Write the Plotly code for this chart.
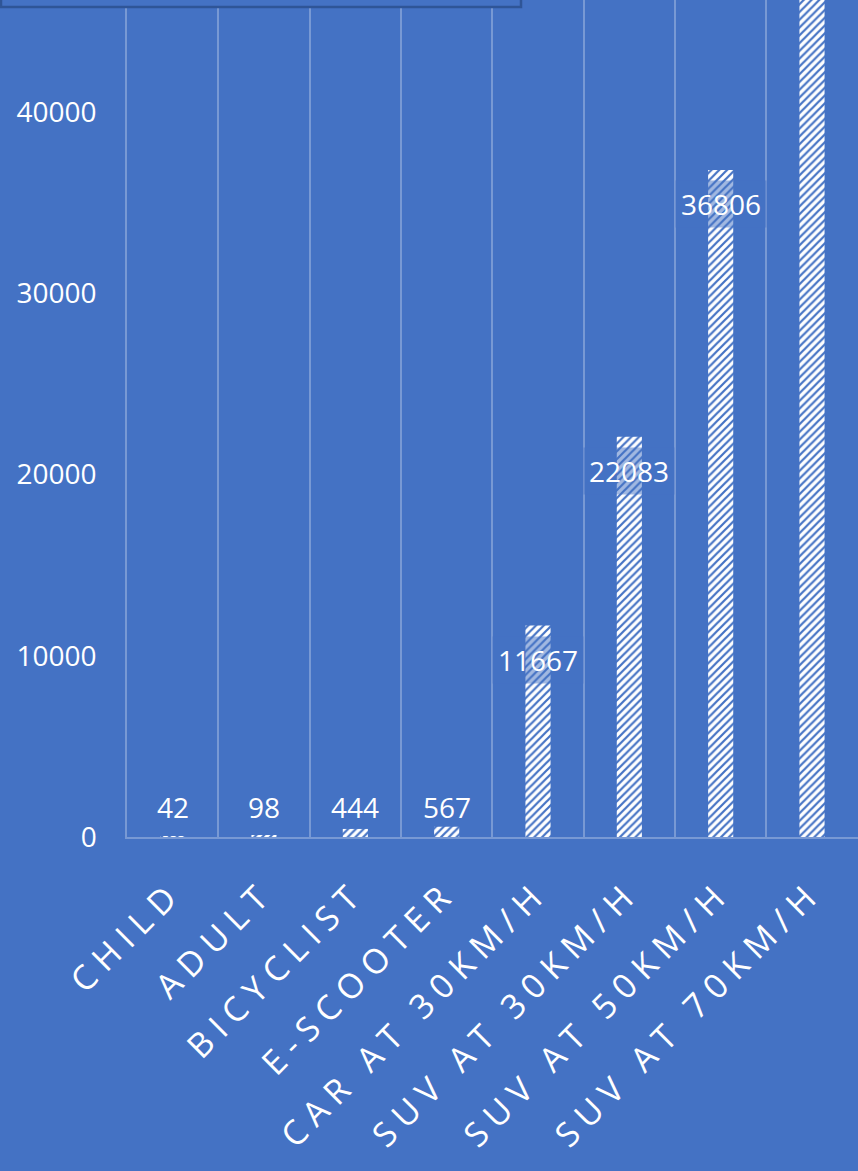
import plotly.graph_objects as go

categories = ["CHILD", "ADULT", "BICYCLIST", "E-SCOOTER", "CAR AT 30KM/H",
              "SUV AT 30KM/H", "SUV AT 50KM/H", "SUV AT 70KM/H"]
values = [42, 98, 444, 567, 11667, 22083, 36806, 54000]
y_ticks = [0, 10000, 20000, 30000, 40000]

BG = "#4472C4"
GRID = "rgba(255,255,255,0.28)"
FONT = "Open Sans"
W, H = 858, 1171
ML, MB, MT, MR = 127, 334, 0, 0
plot_h = H - MB - MT
y_max = 46180

fig = go.Figure()
fig.add_trace(go.Bar(
    x=categories, y=values, width=0.275,
    marker=dict(color="white", line=dict(width=0),
                pattern=dict(shape="/", fgcolor=BG, bgcolor="white",
                             size=5.5, solidity=0.4, fillmode="replace")),
    showlegend=False, hoverinfo="skip",
))

px_per_unit = plot_h / y_max
for c, v in zip(categories, values):
    inside = v * px_per_unit > 60
    fig.add_annotation(
        x=c, y=v if inside else 0, yshift=-34 if inside else 30,
        text=str(v), showarrow=False,
        xanchor="center", yanchor="middle",
        width=90 if inside else 86, height=46, borderpad=0,
        bgcolor="rgba(68,114,196,0.5)" if inside else "rgba(68,114,196,0)",
        font=dict(family=FONT, size=28, color="white"),
    )

# box partially visible at the top-left
plot_w = W - ML - MR
fig.add_shape(type="rect", xref="paper", yref="paper",
              x0=(-ML + 1) / plot_w, x1=(521 - ML) / plot_w,
              y0=1 - 7 / plot_h, y1=1.05,
              line=dict(color="#2F5597", width=2.5), fillcolor=BG, layer="above")

fig.update_layout(
    width=W, height=H,
    margin=dict(l=ML, r=MR, t=MT, b=MB, pad=0),
    paper_bgcolor=BG, plot_bgcolor=BG,
    bargap=0.725,
    font=dict(family=FONT, color="white"),
)
fig.update_xaxes(
    type="category", tickson="boundaries", showgrid=True,
    gridcolor=GRID, gridwidth=1.5,
    showline=True, linecolor=GRID, linewidth=2,
    ticks="", tickangle=-45, ticklabelstandoff=20,
    tickfont=dict(family=FONT, size=34, color="white"),
)
fig.update_yaxes(
    range=[0, y_max], tickvals=y_ticks, ticktext=[str(t) for t in y_ticks],
    showgrid=False, zeroline=False, showline=True, linecolor=GRID, linewidth=1.5,
    ticks="", ticklabelstandoff=23,
    tickfont=dict(family=FONT, size=28, color="white"),
)

post = ("document.body.style.margin='0';"
        "document.body.style.background='" + BG + "';"
        "document.querySelectorAll('.xtick text').forEach(function(t){t.style.letterSpacing='8.5px';});")
fig.write_html("out.html", post_script=post, config={"displayModeBar": False})
